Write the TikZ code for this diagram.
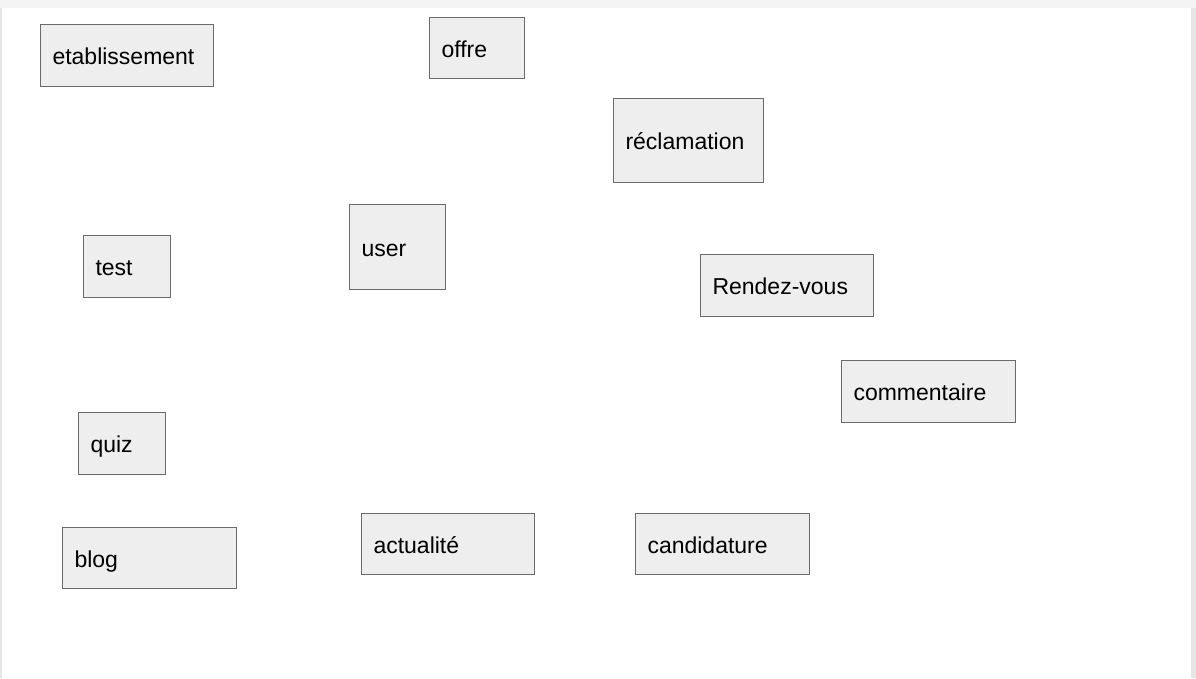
\documentclass[tikz,border=0pt]{standalone}
\usepackage{fontspec}
\setmainfont{Liberation Sans}
\definecolor{boxfill}{HTML}{EEEEEE}
\definecolor{boxline}{HTML}{6A6A6A}
\definecolor{pagebg}{HTML}{F4F4F5}
\definecolor{sidebg}{HTML}{E6E6E6}
\begin{document}
\begin{tikzpicture}[x=1pt,y=-1pt,
  entity/.style={draw=boxline, fill=boxfill, line width=1pt, rectangle, anchor=north west,
    inner xsep=12pt, inner ysep=0pt, align=left, text height=21pt, text depth=3pt,
    font=\fontsize{23}{26}\selectfont, text=black}]
\useasboundingbox (0,0) rectangle (1196,678);
\fill[pagebg] (0,0) rectangle (1196,678);
\fill[sidebg] (1191,8) rectangle (1196,678);
\fill[sidebg] (0,8) rectangle (1.5,678);
\fill[white] (1.5,8) rectangle (1191,678);
\node[entity, text width=149pt, minimum height=62pt] (etab) at (40,24) {etablissement};
\node[entity, text width=71pt, minimum height=61pt] (offre) at (429,17) {offre};
\node[entity, text width=126pt, minimum height=84pt] (recl) at (613,98) {réclamation};
\node[entity, text width=63pt, minimum height=62pt] (test) at (83,235) {test};
\node[entity, text width=72pt, minimum height=85pt] (user) at (349,204) {user};
\node[entity, text width=149pt, minimum height=62pt] (rdv) at (700,254) {Rendez-vous};
\node[entity, text width=150pt, minimum height=62pt] (comm) at (841,360) {commentaire};
\node[entity, text width=63pt, minimum height=62pt] (quiz) at (78,412) {quiz};
\node[entity, text width=150pt, minimum height=61pt] (blog) at (62,527) {blog};
\node[entity, text width=149pt, minimum height=61pt] (actu) at (361,513) {actualité};
\node[entity, text width=150pt, minimum height=61pt] (cand) at (635,513) {candidature};
\end{tikzpicture}
\end{document}
